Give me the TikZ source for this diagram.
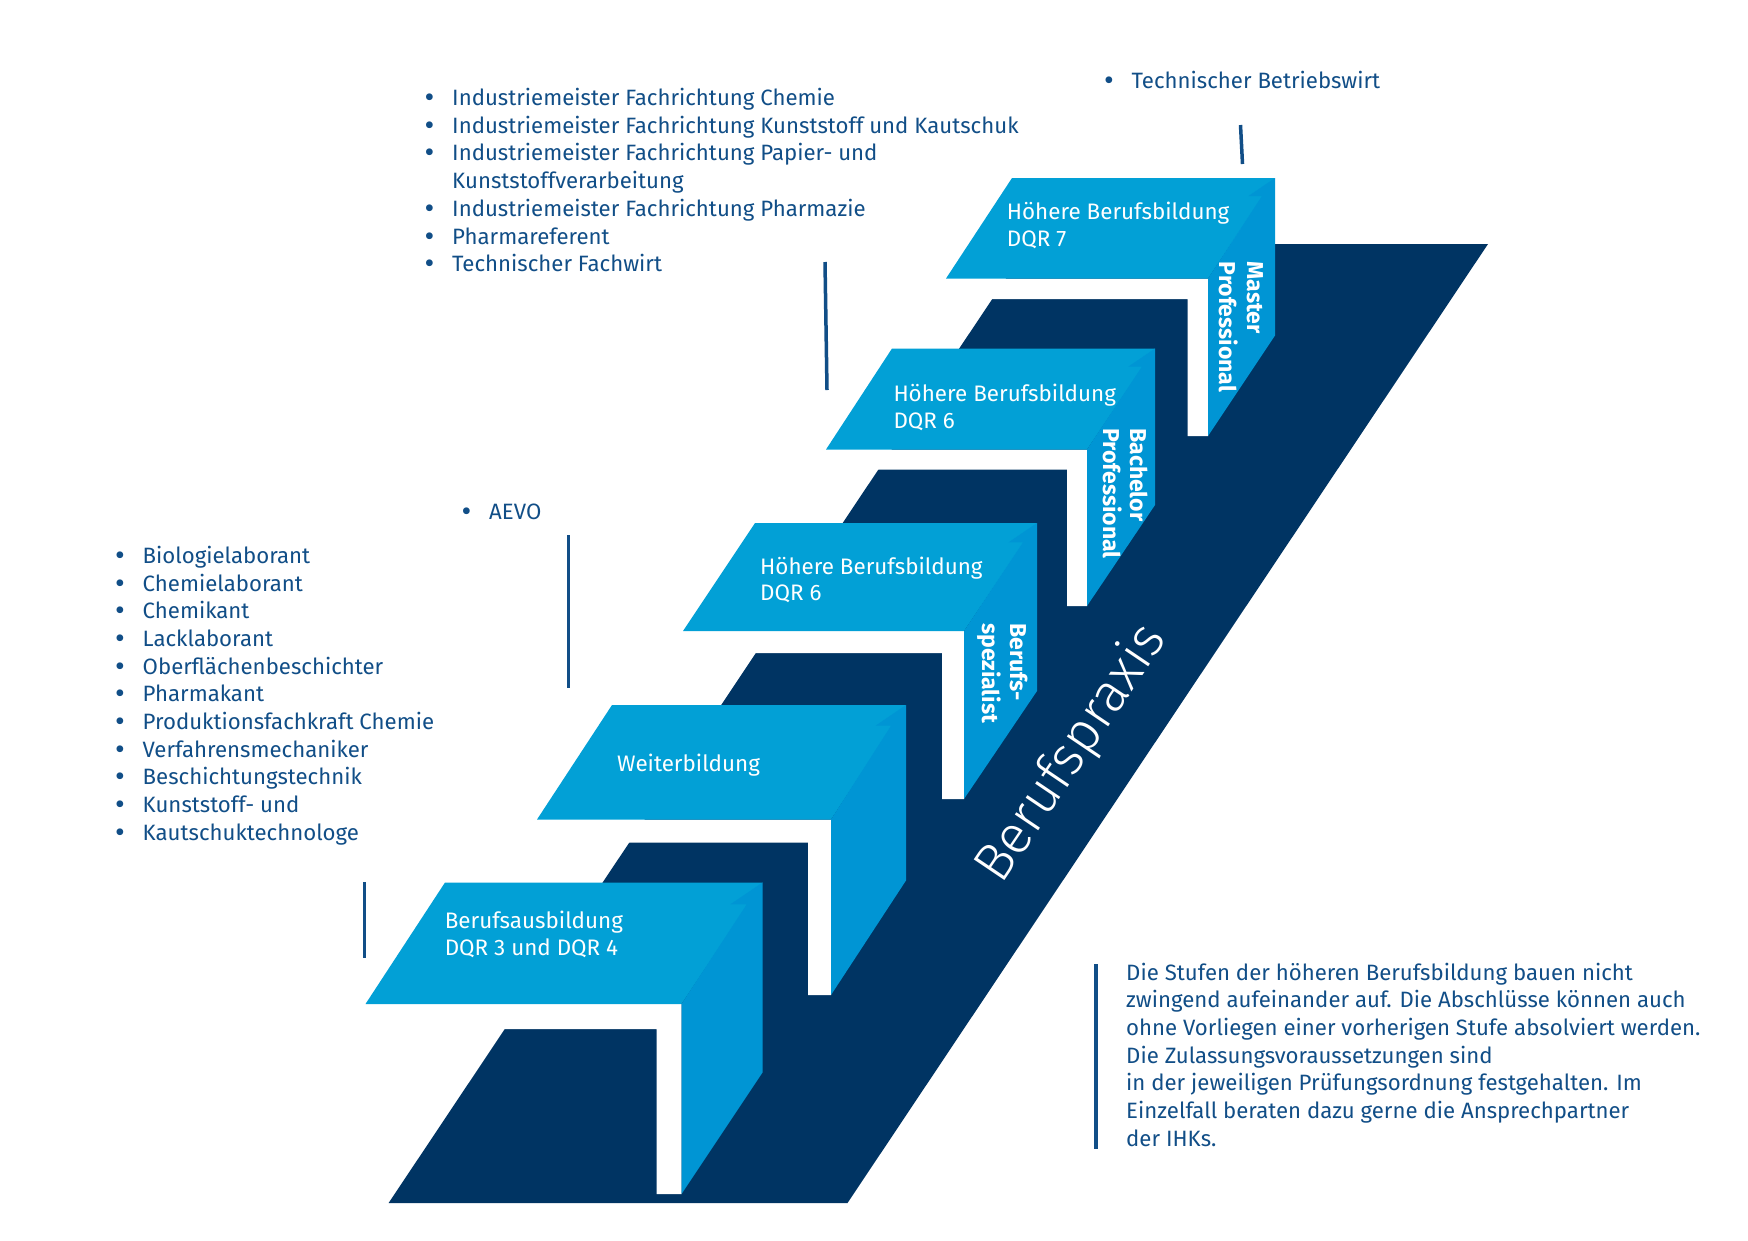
\documentclass[tikz,border=0pt]{standalone}
\usepackage{fontspec}
\setmainfont{Fira Sans}
\IfFontExistsTF{Fira Sans Light}{\newfontfamily\lightfont{Fira Sans Light}}{\newfontfamily\lightfont{Fira Sans}}
\definecolor{topblue}{HTML}{02A0D6}
\definecolor{sideblue}{HTML}{0095D4}
\definecolor{navy}{HTML}{003463}
\definecolor{txtblue}{HTML}{114E87}
\newcommand\bul{\llap{\raisebox{-2pt}{\fontsize{30}{30}\selectfont\textbullet}\hspace{17.8pt}}}
\tikzset{
  txt/.style={font=\fontsize{22.2}{27.7}\selectfont, text=txtblue, inner sep=0pt, anchor=base west},
  steplbl/.style={font=\fontsize{22.4}{27.4}\selectfont, text=white, inner sep=0pt, anchor=base west},
  sidelbl/.style={font=\bfseries\fontsize{23}{27.4}\selectfont, text=white, inner sep=0pt, rotate=-90, anchor=north west, align=left},
  sepline/.style={draw=txtblue, line width=3.5pt},
  topface/.style={fill=topblue},
  sideface/.style={fill=sideblue},
  gapface/.style={fill=white},
  bandface/.style={fill=navy},
}
\newcommand\drawstepblock[8]{%
  \fill[gapface] (#4,#6) -- (#5,#6) -- (#5,#7) -- ({#5-#8},#7) -- ({#5-#8},{#6+#8}) -- (#4,{#6+#8}) -- cycle;
  \fill[topface] (#1,#3) -- (#2,#3) -- (#5,#6) -- (#4,#6) -- cycle;
  \fill[sideface] (#5,#6) -- ({#2-0.13*(#6-#3)},{#3+0.18*(#6-#3)}) -- ({#2-0.265*(#6-#3)},{#3+0.18*(#6-#3)}) -- (#2,#3) -- (#2,{#7-(#6-#3)}) -- (#5,#7) -- cycle;
}
\begin{document}
\begin{tikzpicture}[x=1pt,y=-1pt]
\fill[white] (0,0) rectangle (1748,1240);
\useasboundingbox (0,0) rectangle (1748,1240);
% dark band
\fill[bandface] (388.6,1203) -- (847.5,1203) -- (1488,244) -- (1029,244) -- cycle;
% steps: xTL, xTR, yT, xFL, xFR, yF, yB, gap
\drawstepblock{1012}{1275}{178}{946}{1208}{278.5}{436}{20.5}
\drawstepblock{892}{1155}{348.5}{826}{1087}{449.5}{606}{20}
\drawstepblock{755}{1037}{523}{683}{964}{631}{799}{22}
\drawstepblock{612}{906}{705}{537}{831}{819.5}{995}{23}
\drawstepblock{445}{762.5}{882.5}{365.5}{681.5}{1004}{1194}{25}
% step labels
\node[steplbl] (s5a) at (1006.7,219.3) {Höhere Berufsbildung};
\node[steplbl] (s5b) at (1006.7,246.7) {DQR 7};
\node[steplbl] (s4a) at (893.3,401) {Höhere Berufsbildung};
\node[steplbl] (s4b) at (893.3,428.3) {DQR 6};
\node[steplbl] (s3a) at (760,574) {Höhere Berufsbildung};
\node[steplbl] (s3b) at (760,600.7) {DQR 6};
\node[steplbl] (s2a) at (617,771.4) {Weiterbildung};
\node[steplbl] (s1a) at (444.6,928.3) {Berufsausbildung};
\node[steplbl] (s1b) at (444.6,955.9) {DQR 3 und DQR 4};
% side labels
\node[sidelbl] (m5) at (1263.5,261.5) {Master\\Professional};
\node[sidelbl] (m4) at (1148.5,428) {Bachelor\\Professional};
\node[sidelbl] (m3) at (1028,623) {Berufs-\\spezialist};
% Berufspraxis
\node[rotate=56, anchor=base west, inner sep=0pt, text=white, font=\lightfont\fontsize{54}{54}\selectfont] (bp) at (1001,886) {Berufspraxis};
% separator bars
\draw[sepline] (1240.5,125) -- (1242.5,164);
\draw[sepline] (825,262) -- (827,390);
\draw[sepline] (568.5,535) -- (568.5,688);
\draw[sepline] (364.5,882) -- (364.5,958);
\draw[sepline] (1096,964) -- (1096,1149);
% top right item
\node[txt] (tb) at (1131.5,88.5) {\bul Technischer Betriebswirt};
% top list
\node[txt] (t1) at (452,105.2) {\bul Industriemeister Fachrichtung Chemie};
\node[txt] (t2) at (452,133.0) {\bul Industriemeister Fachrichtung Kunststoff und Kautschuk};
\node[txt] (t3) at (452,160.8) {\bul Industriemeister Fachrichtung Papier- und};
\node[txt] (t4) at (452,188.5) {Kunststoffverarbeitung};
\node[txt] (t5) at (452,216.3) {\bul Industriemeister Fachrichtung Pharmazie};
\node[txt] (t6) at (452,244.1) {\bul Pharmareferent};
\node[txt] (t7) at (452,271.9) {\bul Technischer Fachwirt};
% AEVO
\node[txt] (ae) at (489,519) {\bul AEVO};
% left list
\foreach \t [count=\i] in {Biologielaborant, Chemielaborant, Chemikant, Lacklaborant, Oberflächenbeschichter, Pharmakant, Produktionsfachkraft Chemie, Verfahrensmechaniker, Beschichtungstechnik, Kunststoff- und, Kautschuktechnologe}
  \node[txt] (l\i) at (142.5,{563.5+27.67*(\i-1)}) {\bul\t};
% paragraph
\foreach \t [count=\i] in {Die Stufen der höheren Berufsbildung bauen nicht, zwingend aufeinander auf. Die Abschlüsse können auch, ohne Vorliegen einer vorherigen Stufe absolviert werden., Die Zulassungsvoraussetzungen sind, in der jeweiligen Prüfungsordnung festgehalten. Im, Einzelfall beraten dazu gerne die Ansprechpartner, der IHKs.}
  \node[txt] (p\i) at (1126,{980+27.7*(\i-1)}) {\t};
\end{tikzpicture}
\end{document}
